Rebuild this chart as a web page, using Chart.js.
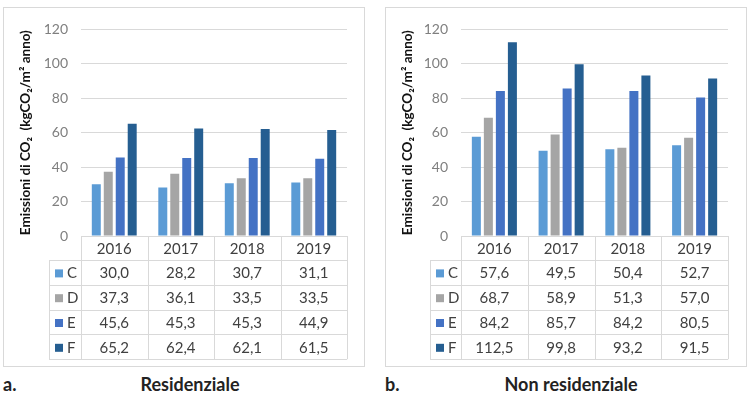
<!DOCTYPE html>
<html>
<head>
<meta charset="utf-8">
<script src="https://cdn.jsdelivr.net/npm/chart.js@4.4.0/dist/chart.umd.min.js"></script>
<style>
  html, body { margin: 0; padding: 0; background: #ffffff; }
  body { width: 750px; height: 396px; position: relative; overflow: hidden; font-family: Lato, "Open Sans", sans-serif; }
  .panel { position: absolute; top: 7px; width: 362px; height: 360px; box-sizing: border-box; border: 1px solid #d9d9d9; background: #fff; }
  .panel canvas { position: absolute; left: 0; top: 0; }
  .lbl { position: absolute; top: 372px; font-family: Lato, "Open Sans", sans-serif; font-weight: bold; font-size: 18px; color: #222; line-height: 24px; white-space: nowrap; }
</style>
</head>
<body>
<div class="panel" style="left:3px;"><canvas id="c1" width="360" height="358"></canvas></div>
<div class="panel" style="left:385px;"><canvas id="c2" width="360" height="358"></canvas></div>
<div class="lbl" style="left:3px;">a.</div>
<div class="lbl" style="left:190px; transform:translateX(-50%);">Residenziale</div>
<div class="lbl" style="left:385px;">b.</div>
<div class="lbl" style="left:571px; transform:translateX(-50%);">Non residenziale</div>
<script>
// ---- data ----
const years = ['2016', '2017', '2018', '2019'];
const classes = ['C', 'D', 'E', 'F'];
const yTicks = [0, 20, 40, 60, 80, 100, 120];
// Residenziale
const resC = [30.0, 28.2, 30.7, 31.1];
const resD = [37.3, 36.1, 33.5, 33.5];
const resE = [45.6, 45.3, 45.3, 44.9];
const resF = [65.2, 62.4, 62.1, 61.5];
// Non residenziale
const nonC = [57.6, 49.5, 50.4, 52.7];
const nonD = [68.7, 58.9, 51.3, 57.0];
const nonE = [84.2, 85.7, 84.2, 80.5];
const nonF = [112.5, 99.8, 93.2, 91.5];

const colors = ['#5b9bd5', '#a5a5a5', '#4472c4', '#255e91'];
const yTitle = 'Emissioni di CO\u2082  (kgCO\u2082/m\u00b2 anno)';
const fmt = v => v.toFixed(1).replace('.', ',');

const tablePlugin = {
  id: 'dataTable',
  afterDraw(chart, args, opts) {
    const { ctx, chartArea } = chart;
    const xs = chart.scales.x;
    const n = chart.data.labels.length;
    const L = chartArea.left, R = chartArea.right, T = chartArea.bottom;
    const colW = (R - L) / n;
    const headerH = 24, rowH = 24.8;
    const tableLeft = opts.tableLeft;
    const nRows = chart.data.datasets.length;
    const bottom = T + headerH + rowH * nRows;
    ctx.save();
    ctx.strokeStyle = '#d9d9d9';
    ctx.lineWidth = 1;
    ctx.beginPath();
    for (let r = 0; r <= nRows; r++) {
      const y = Math.round(T + headerH + r * rowH) + 0.5;
      ctx.moveTo(tableLeft, y); ctx.lineTo(R, y);
    }
    for (let i = 0; i <= n; i++) {
      const x = Math.round(L + i * colW) + 0.5;
      ctx.moveTo(x, T); ctx.lineTo(x, bottom);
    }
    const xl = Math.round(tableLeft) + 0.5;
    ctx.moveTo(xl, T + headerH); ctx.lineTo(xl, bottom);
    ctx.stroke();

    ctx.fillStyle = '#404040';
    ctx.textAlign = 'center';
    ctx.textBaseline = 'middle';
    ctx.font = '15px Lato, "Open Sans", sans-serif';
    chart.data.labels.forEach((lab, i) => {
      ctx.fillText(lab, xs.getPixelForValue(i), T + headerH / 2 + 1);
    });
    chart.data.datasets.forEach((ds, r) => {
      const yc = T + headerH + r * rowH + rowH / 2 + 1;
      ctx.fillStyle = ds.backgroundColor;
      ctx.fillRect(tableLeft + 6, yc - 4, 8, 8);
      ctx.fillStyle = '#404040';
      ctx.textAlign = 'left';
      ctx.fillText(ds.label, tableLeft + 18, yc);
      ctx.textAlign = 'center';
      ds.data.forEach((v, i) => {
        ctx.fillText(fmt(v), xs.getPixelForValue(i), yc);
      });
    });
    ctx.restore();
  }
};

function makeChart(id, series, yWidth, padRight, tableLeft) {
  const ctx = document.getElementById(id);
  return new Chart(ctx, {
    type: 'bar',
    data: {
      labels: years,
      datasets: classes.map((c, k) => ({
        label: c,
        data: series[k],
        backgroundColor: colors[k],
        categoryPercentage: 0.72,
        barPercentage: 0.75
      }))
    },
    options: {
      responsive: false,
      animation: false,
      devicePixelRatio: 1,
      layout: { padding: { left: 0, right: padRight, top: 5, bottom: 130 } },
      plugins: {
        legend: { display: false },
        tooltip: { enabled: false },
        dataTable: { tableLeft: tableLeft }
      },
      scales: {
        x: { display: false },
        y: {
          min: 0, max: 120,
          afterFit(scale) { scale.width = yWidth; },
          afterBuildTicks(scale) { scale.ticks = yTicks.map(v => ({ value: v })); },
          ticks: {
            padding: 13,
            color: '#7f7f7f',
            font: { family: 'Lato, "Open Sans", sans-serif', size: 14 }
          },
          grid: { color: '#d9d9d9', drawTicks: false, lineWidth: 1 },
          border: { display: false },
          title: {
            display: true,
            text: yTitle,
            color: '#111111',
            padding: { top: 14, bottom: 0 },
            font: { family: 'Lato, "Open Sans", sans-serif', size: 13.5, weight: 'bold' }
          }
        }
      }
    },
    plugins: [tablePlugin]
  });
}

makeChart('c1', [resC, resD, resE, resF], 77, 17, 45);
makeChart('c2', [nonC, nonD, nonE, nonF], 75, 18, 44);
</script>
</body>
</html>
